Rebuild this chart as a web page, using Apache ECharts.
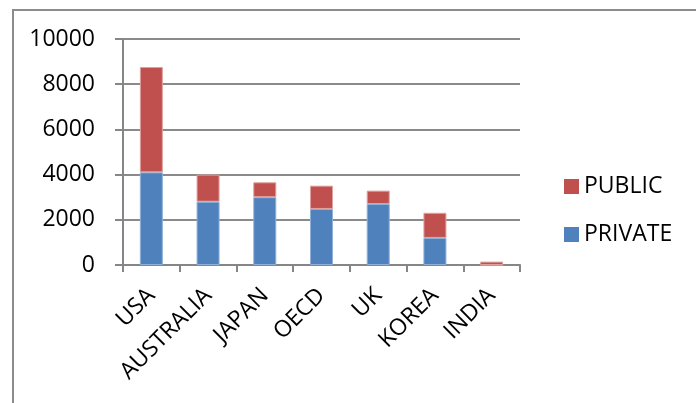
<!DOCTYPE html>
<html>
<head>
<meta charset="utf-8">
<script src="https://cdn.jsdelivr.net/npm/echarts@6/dist/echarts.min.js"></script>
<style>
  * { margin: 0; padding: 0; }
  body { background: #fff; }
</style>
</head>
<body>
<!-- chart container -->
<div id="main" style="width: 696px;height: 403px;"></div>
<script>
  var categories = ['USA', 'AUSTRALIA', 'JAPAN', 'OECD', 'UK', 'KOREA', 'INDIA'];
  var privateData = [4100, 2800, 3000, 2480, 2700, 1200, 0];
  var publicData = [4660, 1200, 660, 1030, 590, 1110, 150];
  var yTicks = [0, 2000, 4000, 6000, 8000, 10000];

  var font = '"Open Sans", "Liberation Sans", sans-serif';
  var chart = echarts.init(document.getElementById('main'));
  chart.setOption({
    animation: false,
    textStyle: { fontFamily: font },
    graphic: [
      {
        type: 'rect',
        shape: { x: 13, y: 10, width: 720, height: 420 },
        style: { fill: 'none', stroke: '#8c8c8c', lineWidth: 2 },
        silent: true
      }
    ],
    grid: { left: 123, right: 176, top: 39, bottom: 138 },
    legend: {
      orient: 'vertical',
      left: 564,
      top: 175,
      padding: 0,
      itemWidth: 15,
      itemHeight: 15,
      itemGap: 25,
      icon: 'rect',
      itemStyle: { borderWidth: 0 },
      data: ['PUBLIC', 'PRIVATE'],
      textStyle: { fontSize: 23, color: '#000', fontFamily: font }
    },
    xAxis: {
      type: 'category',
      data: categories,
      axisLine: { lineStyle: { color: '#868686', width: 2 } },
      axisTick: { show: true, length: 7, lineStyle: { color: '#868686', width: 2 } },
      axisLabel: { rotate: 45, margin: 27, fontSize: 23, color: '#000', fontFamily: font, interval: 0 }
    },
    yAxis: {
      type: 'value',
      min: yTicks[0],
      max: yTicks[yTicks.length - 1],
      interval: 2000,
      axisLine: { show: true, lineStyle: { color: '#868686', width: 2 } },
      axisTick: { show: true, length: 8, lineStyle: { color: '#868686', width: 2 } },
      splitLine: { lineStyle: { color: '#8a8a8a', width: 2 } },
      axisLabel: {
        margin: 28, fontSize: 23, color: '#000', fontFamily: font,
        formatter: function (v) { return String(v); }
      }
    },
    series: [
      {
        name: 'PRIVATE',
        type: 'bar',
        stack: 'total',
        barWidth: 23,
        itemStyle: { color: '#4f81bd', borderColor: '#8fb0d8', borderWidth: 1 },
        data: privateData
      },
      {
        name: 'PUBLIC',
        type: 'bar',
        stack: 'total',
        barWidth: 23,
        itemStyle: { color: '#c0504d', borderColor: '#e0a09e', borderWidth: 1 },
        data: publicData
      }
    ]
  });
</script>
</body>
</html>
